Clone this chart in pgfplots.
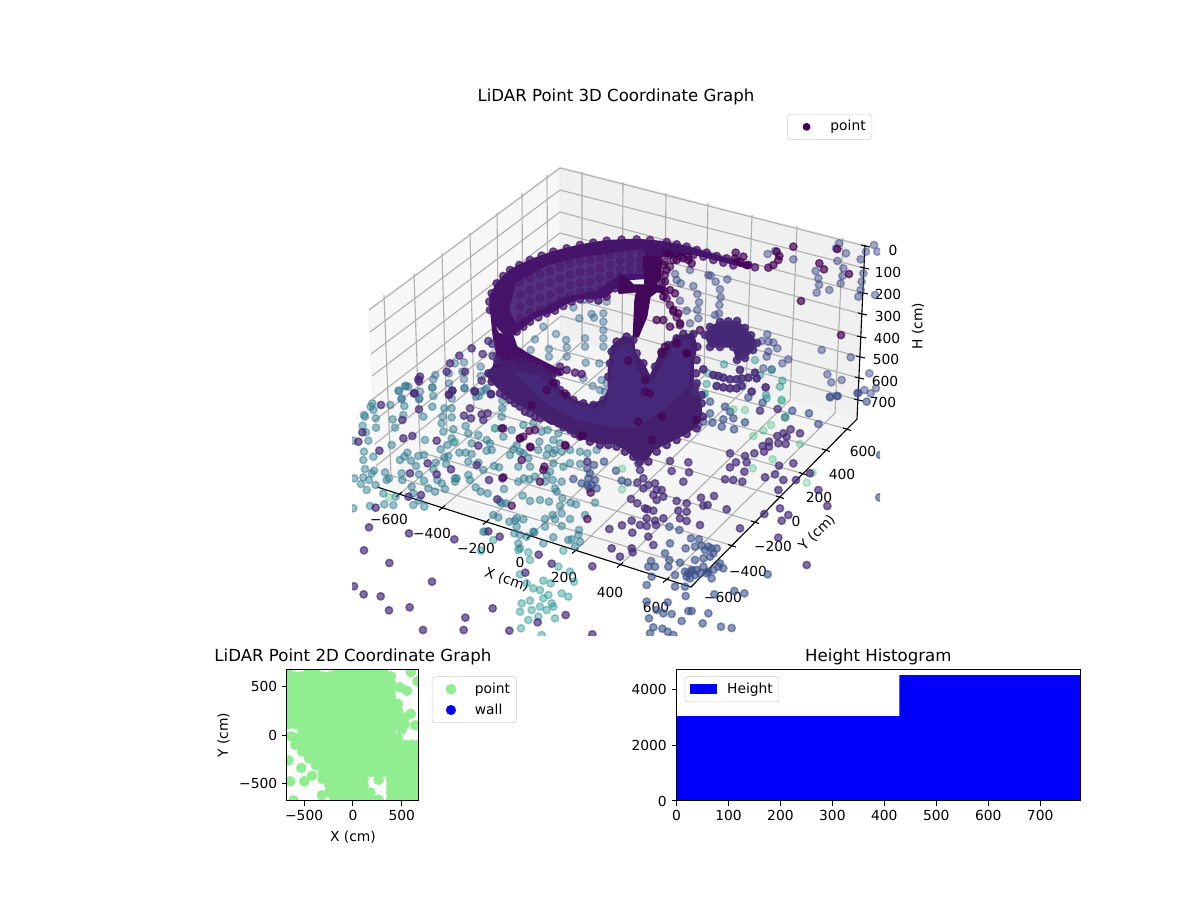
\documentclass[border=0pt]{standalone}
\usepackage{fontspec}
\setmainfont{DejaVu Sans}
\usepackage{pgfplots}
\pgfplotsset{compat=1.18}
\definecolor{vP}{HTML}{472C7A}
\definecolor{vD}{HTML}{440154}
\definecolor{vB}{HTML}{3B528B}
\definecolor{vS}{HTML}{3E4A89}
\definecolor{vT}{HTML}{31688E}
\definecolor{vM}{HTML}{2A788E}
\definecolor{vC}{HTML}{21918C}
\definecolor{vG}{HTML}{35B779}
\definecolor{lg}{HTML}{90EE90}
\definecolor{gridc}{HTML}{B0B0B0}
\definecolor{mBand}{HTML}{46146A}
\definecolor{mBandIn}{HTML}{553080}
\definecolor{mBase}{HTML}{45206F}
\definecolor{mOver}{HTML}{46297A}
\definecolor{mArm}{HTML}{470F68}
\newcommand\lbl{\fontsize{10}{12}\selectfont}
\newcommand\ttl{\fontsize{12}{14}\selectfont}
% scatter points, given in the coordinates of a 3x crop with origin (#3,#4)
\newcommand\pts[5]{\addplot[only marks,mark=*,mark size=2.65bp,line width=1.05bp,
  mark options={draw=#1,fill=#1,draw opacity=#2,fill opacity=#2},
  x filter/.expression={x/3+#3},y filter/.expression={y/3+#4}] coordinates {#5};}
% dense areas, same crop coordinates with origin (480,230)
\newcommand\poly[2]{\addplot[fill=#1,draw=#1,line width=1bp,
  x filter/.expression={x/3+480},y filter/.expression={y/3+230}] coordinates {#2} -- cycle;}
\newcommand\gl[1]{\addplot[gridc,line width=.8bp] coordinates {#1};}
\newcommand\tk[1]{\addplot[black,line width=.8bp] coordinates {#1};}
\pgfplotsset{mylegend/.style={legend style={font=\lbl,draw=black!20,rounded corners=2bp,fill=white,
    inner xsep=3.4bp,inner ysep=3.4bp,/tikz/column sep=6bp,/tikz/row sep=3.6bp,
    nodes={inner sep=1bp,text height=7.6bp,text depth=1.8bp},legend cell align=left},
  legend image code/.code={\path (0bp,0bp) (20bp,0bp);\draw[mark repeat=2,mark phase=2,##1] plot coordinates {(0bp,0bp)(10bp,0bp)(20bp,0bp)};}}}
\begin{document}
\begin{tikzpicture}
\useasboundingbox (0,0) rectangle (864bp,648bp);
% ---------- panes, grid, ticks, labels of the 3D panel (picture coordinates)
\begin{axis}[at={(0,0)},anchor=south west,scale only axis,width=864bp,height=648bp,
  xmin=0,xmax=1200,ymin=0,ymax=900,y dir=reverse,hide axis,clip=false]
\addplot[fill=black!3,draw=black!5,line width=.8bp] coordinates {(369,309)(560,167)(561,336)(377,487)} -- cycle;
\addplot[fill=black!6,draw=black!7,line width=.8bp] coordinates {(560,167)(865,245)(857,419)(561,336)} -- cycle;
\addplot[fill=black!4,draw=black!5,line width=.8bp] coordinates {(377,487)(561,336)(857,419)(691,587)} -- cycle;
\gl{(399,494.5)(582,342)(582,172)}
\gl{(442,508)(622,353)(623,182)}
\gl{(486,522)(664,365)(666,193)}
\gl{(530,536)(704,376)(708,203)}
\gl{(575,551)(746,388)(752,215)}
\gl{(620,565)(790,400)(797,226)}
\gl{(666,580)(835,413)(843,238)}
\gl{(707,571)(391,475.5)(384,295)}
\gl{(732,545.5)(420,452)(414,274)}
\gl{(755,522)(447,430)(442,253)}
\gl{(780,497)(474,407)(470,233)}
\gl{(803,473.6)(499,387)(497,213)}
\gl{(826,450)(523,367)(522,193)}
\gl{(847,429)(548,347)(547,175)}
\gl{(865,246)(560,168)(369,310)}
\gl{(864,268)(560,190)(370,332)}
\gl{(863,293)(560,212)(371,354)}
\gl{(862,314)(560,233)(372,376)}
\gl{(861,337)(561,254)(373,399)}
\gl{(860,357)(561,275)(374,421)}
\gl{(859,378)(561,296)(375,444)}
\gl{(858,400)(561,316)(376,466)}
\tk{(377,487)(691,587)(857,419)(865,245)}
\tk{(396,497)(402,492)}\tk{(439,510.5)(445,505.5)}\tk{(483,524.5)(489,519.5)}\tk{(527,538.5)(533,533.5)}
\tk{(572,553.5)(578,548.5)}\tk{(617,567.5)(623,562.5)}\tk{(663,582.5)(669,577.5)}
\tk{(703,570)(711,572.5)}\tk{(728,544.5)(736,547)}\tk{(751,521)(759,523.5)}\tk{(776,496)(784,498.5)}
\tk{(799,472.5)(807,475)}\tk{(822,449)(830,451.5)}\tk{(843,428)(851,430.5)}
\tk{(861,245)(870,247)}\tk{(860,267)(869,269)}\tk{(859,292)(868,294)}\tk{(858,313)(867,315)}
\tk{(857,336)(866,338)}\tk{(856,356)(865,358)}\tk{(855,377)(864,379)}\tk{(854,399)(863,401)}
\node[font=\lbl] at (axis cs:389,519) {−600};
\node[font=\lbl] at (axis cs:432,533) {−400};
\node[font=\lbl] at (axis cs:476,548) {−200};
\node[font=\lbl] at (axis cs:520,562) {0};
\node[font=\lbl] at (axis cs:564,577) {200};
\node[font=\lbl] at (axis cs:610,592) {400};
\node[font=\lbl] at (axis cs:656,607) {600};
\node[font=\lbl] at (axis cs:723,597) {−600};
\node[font=\lbl] at (axis cs:748,571) {−400};
\node[font=\lbl] at (axis cs:773,546) {−200};
\node[font=\lbl] at (axis cs:796,521) {0};
\node[font=\lbl] at (axis cs:819,497) {200};
\node[font=\lbl] at (axis cs:842,474) {400};
\node[font=\lbl] at (axis cs:863,451) {600};
\node[font=\lbl] at (axis cs:893,250) {0};
\node[font=\lbl] at (axis cs:888,272) {100};
\node[font=\lbl] at (axis cs:888,294) {200};
\node[font=\lbl] at (axis cs:888,316) {300};
\node[font=\lbl] at (axis cs:887,338) {400};
\node[font=\lbl] at (axis cs:886,359) {500};
\node[font=\lbl] at (axis cs:885,381) {600};
\node[font=\lbl] at (axis cs:883,402) {700};
\node[font=\lbl,rotate=-19] at (axis cs:507,580) {X (cm)};
\node[font=\lbl,rotate=45] at (axis cs:817,533) {Y (cm)};
\node[font=\lbl,rotate=90] at (axis cs:918,326) {H (cm)};
\end{axis}
% ---------- 3D scatter, clipped to the panel
\begin{axis}[at={(253.44bp,190.8bp)},anchor=south west,scale only axis,width=380.16bp,height=385.2bp,
  xmin=352,xmax=880,ymin=100,ymax=635,y dir=reverse,axis lines=none,clip marker paths=true,
  title={LiDAR Point 3D Coordinate Graph},title style={font=\ttl,yshift=-13bp},
  mylegend,legend style={at={(0.985,0.974)},anchor=north east}]
\addlegendimage{only marks,mark=*,mark size=2.6bp,color=vD}
% far points, blue
\pts{vT}{.42}{340}{150}{(700,472)(718,505)(755,492)(762,503)(790,490)(790,515)(790,540)(648,552)(610,530)(585,568)(678,570)(680,592)(735,565)(735,590)(737,638)(790,565)(790,590)(627,597)(627,620)(680,620)(775,450)(800,455)(730,450)(572,600)(730,685)(778,640)(372,637)(372,688)(422,650)(345,640)(367,665)(286,675)(280,688)(327,670)(195,708)(175,722)(205,710)(240,725)(277,713)(327,700)(374,714)(422,678)(423,725)(440,715)(470,615)(408,740)(238,745)(185,745)(335,745)(758,708)(785,690)(800,700)(780,720)(795,725)}
\pts{vS}{.48}{620}{150}{(443,312)(465,303)(520,328)(648,295)(657,280)(678,310)(722,328)(738,305)(762,285)(772,305)(652,333)(587,363)(595,385)(597,405)(590,428)(628,420)(662,400)(667,378)(670,355)(730,370)(725,395)(722,420)(715,440)(765,435)(605,600)(692,622)(622,673)(634,697)(665,690)(748,670)(733,720)(752,730)(768,715)(630,740)(650,738)(712,730)(210,360)(165,372)(170,390)(182,400)(220,408)(232,432)(180,452)(237,457)(232,480)(235,505)(200,482)(265,375)(272,377)(287,395)(322,388)(300,418)(302,442)(298,465)(297,490)(285,495)(210,520)(442,553)(425,573)(445,575)(460,578)(472,595)(505,628)(487,640)(455,658)(430,655)(440,620)(445,605)}
\pts{vC}{.42}{620}{150}{(312,643)(405,630)(455,660)(260,702)(480,710)(420,675)(265,670)(487,692)(253,733)(438,735)(440,745)(485,750)}
% near points, teal
\pts{vM}{.46}{345}{380}{(163,33)(183,18)(170,58)(262,22)(265,48)(222,58)(178,78)(262,80)(235,110)(175,105)(143,118)(150,143)(82,70)(77,80)(92,115)(85,90)(57,105)(60,110)(53,137)(93,143)(63,157)(70,182)(25,182)(136,75)(298,85)(293,110)(290,130)(295,155)(320,112)(325,148)(362,138)(402,48)(420,30)(358,25)(320,85)(472,62)(472,85)(470,110)(450,145)(370,160)(400,165)(425,180)(435,190)(380,190)(362,218)(343,218)(307,195)(320,175)(327,187)(287,208)(240,180)(140,195)(57,215)(85,230)(55,240)(187,218)(165,240)(178,230)(220,228)(237,225)(198,242)(213,258)(272,248)(298,232)(310,228)(380,222)(425,212)(440,210)(400,248)(370,245)(415,270)(447,258)(462,262)(370,285)(375,300)(335,295)(303,252)(265,268)(277,300)(290,310)(237,302)(222,283)(170,280)(172,300)(120,277)(132,295)(125,300)(60,267)(87,272)(80,280)(55,292)(72,300)(48,312)(65,330)(92,315)(28,295)(115,340)(152,350)(200,320)(205,340)(250,325)(270,335)(300,327)(330,305)(330,295)(392,322)(407,335)(428,340)(470,370)(118,373)(75,378)(145,375)(205,375)(222,362)(238,380)(25,385)}
\pts{vM}{.46}{340}{390}{(460,375)(475,382)(430,425)(35,358)}
\pts{vM}{.46}{500}{420}{(10,50)(35,30)(70,15)(100,10)(125,35)(118,65)(143,30)(160,60)(145,85)(175,40)(180,70)(165,90)(50,75)(40,88)(30,105)(60,95)(70,100)(115,90)(140,105)(160,100)(185,95)(210,90)(240,95)(262,100)(290,90)(210,130)(190,140)(240,132)(160,130)(150,155)(140,165)(135,185)(158,180)(165,205)(170,215)(185,185)(90,140)(55,140)(85,115)(55,185)(72,175)(88,178)(105,170)(12,207)(68,227)(90,243)(120,240)(147,245)(187,235)(180,258)(212,248)(228,253)(285,248)(255,285)(158,285)(135,297)(165,298)(185,280)(210,297)(185,318)(135,320)(50,295)(70,298)(45,302)(28,305)(50,320)(18,250)(0,245)(43,340)(60,345)(80,350)(100,335)(103,337)(130,370)(160,352)(205,360)(215,358)(237,330)(235,345)(240,365)(55,370)(60,385)(225,380)}
\pts{vC}{.42}{340}{390}{(460,450)(423,482)(435,425)(565,487)(570,510)(535,480)(670,482)(655,530)(690,545)(702,575)(610,572)(632,580)(540,553)(560,580)(580,595)(600,600)(625,615)(635,640)(610,625)(665,610)(685,620)(545,640)(570,632)(540,665)(575,660)(600,650)(620,660)(640,650)(565,690)(595,680)(645,685)(543,715)(575,745)(605,735)}
\pts{vB}{.6}{500}{420}{(262,145)(282,135)(270,160)(265,175)(285,180)(275,195)(245,190)(262,195)(268,205)(290,205)(220,177)(312,125)(348,152)(365,182)(383,187)}
\pts{vB}{.6}{620}{390}{(148,410)(178,420)(135,490)(150,460)(213,445)(237,448)(225,470)(197,475)(250,505)(93,513)(105,530)(245,467)(265,470)(290,475)(280,490)(225,510)(180,518)(148,510)(145,530)(165,555)(85,530)(95,560)(80,585)(165,590)(195,590)(197,618)(283,613)(343,603)(373,610)(443,553)(80,635)(143,637)(205,663)(215,663)(155,672)(265,670)(87,685)(185,693)(248,700)(303,710)(335,714)(100,712)(127,716)(143,725)(160,735)(90,730)(130,670)(110,660)(778,322)(780,195)(630,22)(653,18)(740,35)(715,8)(595,102)(567,70)(517,62)(495,82)(428,38)(385,22)(342,118)(305,110)(277,98)(310,88)(340,85)(375,97)(330,65)(315,50)(270,35)(270,70)(250,95)(235,105)(205,550)(215,545)(225,555)(200,560)(210,565)(230,540)(250,530)(265,545)(280,540)(295,530)(310,535)(270,500)(255,480)(275,475)(215,540)(195,545)(275,565)(260,550)(300,520)(240,550)}
\pts{vG}{.32}{620}{390}{(400,138)(453,105)(497,80)(458,208)(398,235)(540,162)(560,278)(578,248)(375,60)(340,58)(485,33)(255,12)(430,122)}
\pts{vG}{.32}{340}{390}{(147,322)(465,115)(345,155)}
\pts{vG}{.32}{500}{420}{(366,146)(366,208)}
% dense masses
\poly{mBand}{(30,240)(30,200)(50,160)(90,120)(150,90)(220,65)(300,45)(380,32)(470,28)(550,35)(620,50)(690,70)(750,88)(810,105)(805,115)(750,100)(690,85)(640,72)(620,72)(600,78)(545,80)(540,150)(500,145)(420,150)(410,170)(380,200)(340,205)(300,205)(250,225)(220,245)(170,260)(130,290)(100,315)(70,310)(40,280)}
\poly{mBandIn}{(110,160)(200,110)(300,85)(400,70)(490,60)(495,130)(420,130)(350,180)(250,200)(160,245)(110,275)(90,240)}
\pts{mBand}{.4}{480}{230}{(120,158)(120,194)(120,230)(120,263)(150,144)(150,180)(150,216)(150,248)(180,133)(180,169)(180,205)(180,237)(210,123)(210,159)(210,195)(210,227)(240,112)(240,146)(240,180)(240,210)(270,102)(270,134)(270,166)(270,196)(300,94)(300,126)(300,158)(300,186)(330,90)(330,123)(330,156)(330,185)(360,84)(360,116)(360,147)(360,176)(390,76)(390,106)(390,135)(390,162)(420,67)(420,92)(420,117)(420,140)(450,65)(450,89)(450,113)(450,135)(480,63)(480,87)(480,110)(480,131)}
\poly{mBase}{(75,400)(130,395)(180,415)(215,440)(240,480)(280,510)(330,525)(370,510)(385,480)(385,420)(395,350)(430,320)(460,325)(465,370)(490,400)(510,440)(540,370)(590,320)(640,310)(650,350)(640,400)(640,470)(660,500)(665,550)(650,590)(610,615)(560,640)(520,660)(500,690)(470,690)(440,660)(400,640)(360,640)(320,630)(280,610)(240,590)(200,575)(160,545)(110,520)(70,490)(30,450)(20,430)(40,410)}
\poly{mOver}{(100,425)(180,440)(230,490)(300,530)(380,530)(400,360)(450,340)(470,420)(510,470)(590,340)(630,330)(625,470)(560,530)(470,590)(400,590)(300,570)(200,520)}
\poly{mArm}{(35,270)(40,320)(50,370)(40,410)(130,400)(170,415)(215,435)(245,435)(240,420)(200,400)(150,375)(110,350)(100,320)(55,310)}
\poly{vD!90!vS}{(490,80)(540,80)(530,165)(555,170)(555,190)(530,185)(510,200)(500,260)(475,320)(460,320)(465,210)(470,185)(440,188)(418,190)(412,175)(425,135)(445,150)(460,165)(495,165)}
% fringes
\pts{mBand}{.7}{480}{230}{(30,240)(28,215)(35,190)(50,160)(70,138)(90,120)(118,105)(150,90)(185,77)(220,65)(260,55)(300,45)(340,38)(380,32)(425,29)(470,28)(510,30)(560,36)(590,43)(620,50)(650,60)(680,68)(710,78)(740,85)(770,95)(800,105)(825,112)(640,75)(670,80)(700,90)(730,98)(760,106)(300,208)(275,215)(250,228)(225,242)(200,250)(175,262)(150,275)(130,290)(110,305)(90,312)(355,212)(330,207)(380,200)(405,175)(240,410)(260,420)(285,428)(305,432)(215,430)(240,425)}
\pts{mBase}{.8}{480}{230}{(75,400)(100,398)(130,395)(155,405)(180,415)(200,430)(215,440)(228,460)(240,480)(260,497)(280,510)(25,430)(35,455)(60,490)(75,497)(90,510)(105,520)(120,530)(135,545)(150,550)(165,560)(180,565)(215,572)(235,580)(250,592)(270,600)(285,612)(300,620)(330,635)(360,645)(385,645)(410,650)(435,665)(460,680)(480,695)(505,695)(530,665)(560,645)(590,630)(620,612)(650,595)(668,560)(665,520)(650,500)(645,470)(648,430)(650,390)(652,350)(640,312)(610,312)(590,325)(565,345)(545,365)(525,410)(490,400)(470,370)(460,330)(440,320)(410,335)(395,365)(390,400)(385,440)(370,510)(340,525)(310,520)}
% purple points, on top
\pts{vP}{.68}{345}{380}{(208,40)(222,4)(222,88)(108,75)(172,120)(40,185)(52,157)(312,45)(322,32)(357,107)(375,85)(378,115)(410,103)(428,100)(415,120)(390,35)(438,42)(475,145)(400,197)(275,182)(175,175)(202,168)(103,212)(248,250)(395,255)(472,295)(432,300)(318,268)(275,283)(195,280)(190,350)(228,345)(457,358)(92,383)}
\pts{vP}{.68}{340}{390}{(87,412)(207,430)(343,448)(72,481)(148,519)(276,575)(42,589)(71,613)(122,619)(147,661)(209,652)(458,655)(376,683)(249,720)(371,720)(291,738)(508,722)(757,733)(593,697)(677,675)(556,548)(635,521)(596,494)(757,529)(479,440)(445,424)}
\pts{vD}{.62}{500}{420}{(5,25)(60,55)(65,120)(105,30)(88,33)(247,47)(197,77)(92,82)(133,140)(130,150)(120,185)(10,172)(35,257)(272,218)(262,297)}
\pts{vP}{.68}{500}{420}{(328,327)(366,316)(397,338)(395,302)(440,295)(435,265)(393,237)(412,250)(442,268)(460,272)(412,188)(430,205)(445,195)(465,190)(430,175)(420,150)(415,130)(470,210)(460,225)(470,240)(465,302)(420,315)(440,318)(445,350)(468,315)(335,385)(460,375)(395,385)(262,125)}
\pts{vP}{.68}{620}{390}{(205,217)(155,243)(207,247)(150,213)(190,275)(243,323)(282,318)(263,345)(250,347)(320,358)(200,340)(200,365)(170,333)(175,362)(180,385)(200,393)(240,405)(130,385)(125,300)(130,320)(330,190)(375,198)(403,190)(380,217)(348,217)(330,232)(373,245)(315,268)(340,270)(367,275)(435,262)(465,253)(490,270)(528,270)(477,227)(520,220)(432,185)(428,168)(447,155)(475,160)(497,162)(490,130)(512,118)(540,130)(500,140)(472,138)(447,170)(420,62)(473,57)(475,300)(480,355)(433,372)(505,375)(485,392)(360,415)(475,443)(560,525)(595,300)(622,348)(570,250)(38,487)(0,500)}
\pts{vP}{.68}{340}{150}{(395,595)(445,573)(457,582)(358,617)(428,612)(458,618)(472,633)(330,640)(375,665)(320,665)(235,688)(240,680)(425,692)(222,730)(337,722)(327,733)(403,723)(453,733)}
\pts{vD}{.68}{620}{150}{(347,308)(370,320)(385,345)(360,335)(345,325)(470,305)(478,318)(475,330)(460,345)(445,353)(520,290)(652,297)(598,340)(612,358)(687,372)(543,453)(663,555)(135,395)(150,420)(130,440)(160,480)(175,490)(150,530)(180,520)(110,510)(130,510)(135,590)(125,610)(170,580)(165,430)(140,360)(130,345)(205,330)(215,340)(205,320)(190,325)(170,330)(150,315)(200,610)(240,540)}
\pts{vD}{.6}{480}{230}{(445,392)(620,370)(495,450)(495,485)(510,490)(200,480)(255,490)(475,575)(305,617)(155,525)(130,620)(120,625)(150,650)(255,645)(220,460)(515,630)(545,560)(650,570)(555,185)(560,205)(570,225)(580,245)(590,262)(600,285)(560,70)(580,90)(600,80)(555,95)(570,110)(540,130)(555,135)(545,155)}
% ring-shaped clusters on the right
\poly{vP!90!vD}{(675,315)(690,291)(720,276)(771,273)(795,294)(831,339)(819,360)(795,384)(771,390)(759,351)(720,351)(690,351)}
\pts{vP}{.85}{480}{230}{(675,315)(690,291)(720,276)(745,274)(771,273)(795,294)(813,316)(831,339)(819,360)(795,384)(771,390)(759,351)(720,351)(690,351)}
\pts{vP}{.85}{620}{150}{(280,675)(295,678)(310,683)(330,688)(350,688)(365,685)(385,683)(410,685)(405,668)(360,660)(290,708)(310,712)(330,715)(350,715)(365,708)(437,712)(395,725)(250,658)(225,725)(245,735)(230,700)}
\legend{point}
\end{axis}
% ---------- 2D panel
\begin{axis}[at={(206.6bp,71.3bp)},anchor=south west,scale only axis,width=95bp,height=95bp,
  xmin=-676,xmax=676,ymin=-676,ymax=676,clip marker paths=true,
  xtick={-500,0,500},xticklabels={−500,0,500},ytick={-500,0,500},yticklabels={−500,0,500},
  tick align=outside,major tick length=3.5bp,xtick pos=lower,ytick pos=left,
  every tick/.style={black,line width=.7bp},axis line style={line width=.7bp},axis on top,
  tick label style={font=\lbl},
  xlabel={X (cm)},ylabel={Y (cm)},label style={font=\lbl},
  title={LiDAR Point 2D Coordinate Graph},title style={font=\ttl,yshift=-6.5bp},
  mylegend,legend style={at={(1.098,0.945)},anchor=north west}]
\addplot[only marks,mark=*,mark size=3.6bp,color=lg,mark options={draw=lg,fill=lg}] coordinates {
(-660,670)(-450,670)(-380,670)(-170,670)(-100,670)(-30,670)(40,670)(110,670)(180,670)(250,670)(320,670)(594,645)
(-660,600)(-590,600)(-520,600)(-450,600)(-380,600)(-310,600)(-240,600)(-170,600)(-100,600)(-30,600)(40,600)(110,600)(180,600)(250,600)(320,600)(390,600)
(-660,530)(-590,530)(-520,530)(-450,530)(-380,530)(-310,530)(-240,530)(-170,530)(-100,530)(-30,530)(40,530)(110,530)(180,530)(250,530)(320,530)(390,530)(662,550)(485,488)(553,454)
(-660,460)(-590,460)(-520,460)(-450,460)(-380,460)(-310,460)(-240,460)(-170,460)(-100,460)(-30,460)(40,460)(110,460)(180,460)(250,460)(320,460)(390,460)
(-660,390)(-590,390)(-520,390)(-450,390)(-380,390)(-310,390)(-240,390)(-170,390)(-100,390)(-30,390)(40,390)(110,390)(180,390)(250,390)(320,390)(390,390)
(-660,320)(-590,320)(-520,320)(-450,320)(-380,320)(-310,320)(-240,320)(-170,320)(-100,320)(-30,320)(40,320)(110,320)(180,320)(250,320)(320,320)(390,320)(460,320)
(-660,250)(-590,250)(-520,250)(-450,250)(-380,250)(-310,250)(-240,250)(-170,250)(-100,250)(-30,250)(40,250)(110,250)(180,250)(250,250)(320,250)(390,250)(460,250)(594,218)
(-660,180)(-590,180)(-520,180)(-450,180)(-380,180)(-310,180)(-240,180)(-170,180)(-100,180)(-30,180)(40,180)(110,180)(180,180)(250,180)(320,180)(390,180)(460,180)(530,180)
(-660,110)(-590,110)(-520,110)(-450,110)(-380,110)(-310,110)(-240,110)(-170,110)(-100,110)(-30,110)(40,110)(110,110)(180,110)(250,110)(320,110)(390,110)(460,110)(530,110)(638,99)
(-520,40)(-450,40)(-380,40)(-310,40)(-240,40)(-170,40)(-100,40)(-30,40)(40,40)(110,40)(180,40)(250,40)(320,40)(390,40)(502,55)
(-635,-14)(-590,-30)(-520,-30)(-450,-30)(-380,-30)(-310,-30)(-240,-30)(-170,-30)(-100,-30)(-30,-30)(40,-30)(110,-30)(180,-30)(250,-30)(320,-30)(390,-30)(460,-30)
(-590,-100)(-520,-100)(-450,-100)(-380,-100)(-310,-100)(-240,-100)(-170,-100)(-100,-100)(-30,-100)(40,-100)(110,-100)(180,-100)(250,-100)(320,-100)(390,-100)(460,-100)(530,-100)(600,-100)(670,-100)
(-520,-170)(-450,-170)(-380,-170)(-310,-170)(-240,-170)(-170,-170)(-100,-170)(-30,-170)(40,-170)(110,-170)(180,-170)(250,-170)(320,-170)(390,-170)(460,-170)(530,-170)(600,-170)(670,-170)
(-450,-240)(-380,-240)(-310,-240)(-240,-240)(-170,-240)(-100,-240)(-30,-240)(40,-240)(110,-240)(180,-240)(250,-240)(320,-240)(390,-240)(460,-240)(530,-240)(600,-240)(670,-240)
(-380,-310)(-310,-310)(-240,-310)(-170,-310)(-100,-310)(-30,-310)(40,-310)(110,-310)(180,-310)(250,-310)(320,-310)(390,-310)(460,-310)(530,-310)(600,-310)(670,-310)
(-310,-380)(-240,-380)(-170,-380)(-100,-380)(-30,-380)(40,-380)(110,-380)(180,-380)(250,-380)(320,-380)(390,-380)(460,-380)(530,-380)(600,-380)(670,-380)
(-310,-450)(-240,-450)(-170,-450)(-100,-450)(-30,-450)(40,-450)(110,-450)(263,-458)(390,-450)(460,-450)(530,-450)(600,-450)(670,-450)
(-240,-520)(-170,-520)(-100,-520)(-30,-520)(40,-520)(110,-520)(390,-520)(460,-520)(530,-520)(600,-520)(670,-520)
(-240,-590)(-170,-590)(-100,-590)(-30,-590)(40,-590)(110,-590)(180,-590)(390,-590)(460,-590)(530,-590)(600,-590)(670,-590)
(-170,-660)(-100,-660)(-30,-660)(40,-660)(110,-660)(180,-660)(263,-662)(390,-660)(460,-660)(530,-660)(600,-660)(670,-660)
(-659,-260)(-529,-338)(-642,-475)(-499,-475)(-420,-417)(-608,-670)(-318,-618)(-198,-628)};
\addlegendimage{only marks,mark=*,mark size=3.4bp,color=blue}
\legend{point,wall}
\end{axis}
% ---------- histogram
\begin{axis}[at={(487.1bp,71.3bp)},anchor=south west,scale only axis,width=290.6bp,height=95bp,
  xmin=0,xmax=777,ymin=0,ymax=4740,
  xtick={0,100,...,700},ytick={0,2000,4000},
  scaled ticks=false,/pgf/number format/assume math mode=true,/pgf/number format/1000 sep={},
  tick align=outside,major tick length=3.5bp,xtick pos=lower,ytick pos=left,
  every tick/.style={black,line width=.7bp},axis line style={line width=.7bp},axis on top,
  tick label style={font=\lbl},
  title={Height Histogram},title style={font=\ttl,yshift=-6.5bp},
  mylegend,legend style={at={(0.02,0.945)},anchor=north west},
  legend image code/.code={\fill[#1,sharp corners] (0bp,-3.6bp) rectangle (20bp,3.6bp);}]
\addplot[ybar interval,fill=blue,draw=none] coordinates {(0,3050)(429,4520)(777,4520)};
\legend{Height}
\end{axis}
\end{tikzpicture}
\end{document}
